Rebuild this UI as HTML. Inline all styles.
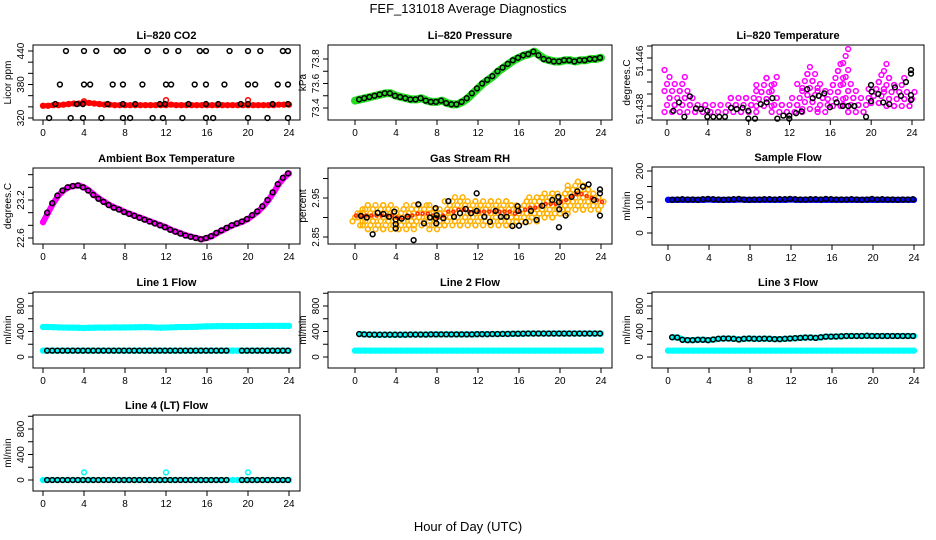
<!DOCTYPE html>
<html><head><meta charset="utf-8"><style>
body{margin:0;background:#fff;}
svg{display:block;font-family:"Liberation Sans",sans-serif;}
</style></head><body>
<svg id="fig" width="936" height="540" viewBox="0 0 936 540" xmlns="http://www.w3.org/2000/svg">
<rect width="936" height="540" fill="#fff"/>
<text x="468" y="13" font-size="13" text-anchor="middle">FEF_131018  Average Diagnostics</text>
<text x="468" y="531" font-size="13" text-anchor="middle">Hour of Day (UTC)</text>
</svg>
<script>
const H=[0,0.5,1,1.5,2,2.5,3,3.5,4,4.5,5,5.5,6,6.5,7,7.5,8,8.5,9,9.5,10,10.5,11,11.5,12,12.5,13,13.5,14,14.5,15,15.5,16,16.5,17,17.5,18,18.5,19,19.5,20,20.5,21,21.5,22,22.5,23,23.5,24];
const xTicks=[0,4,8,12,16,20,24];
// CO2
const co2Red=[342,342,343,343,344,345,346,346,347,347,346,345,344,344,343,343,343,343,343,343,343,343,343,343,343,344,343,343,343,343,343,343,343,343,343,343,343,343,343,343,343,343,343,343,343,343,344,344,344];
const co2SpikeH=[4.0,12.0,20.0];
const co2SpikeV=[350,352,352];
const co2BlackH=[2.24,4.0,5.2,7.2,7.8,10.2,12.0,13.2,15.3,15.9,18.2,20.0,21.2,23.4,23.9,1.65,4.0,4.6,6.8,7.8,9.7,12.0,12.5,14.8,15.9,17.7,20.0,20.7,22.9,23.9,1.2,3.3,3.9,6.3,7.8,9.0,11.4,11.9,14.2,15.9,17.1,19.3,20.0,22.4,23.9,0.6,2.7,3.9,5.7,7.8,8.5,10.7,11.7,13.6,15.9,16.6,20.0,21.9,23.9];
const co2BlackV=[440,440,440,440,440,440,440,440,440,440,440,440,440,440,440,380,380,380,380,380,380,380,380,380,380,380,380,380,380,380,345,345,345,345,345,345,345,345,345,345,345,345,345,345,345,320,320,320,320,320,320,320,320,320,320,320,320,320,320];
// Pressure
const pres=[73.46,73.47,73.48,73.49,73.5,73.51,73.52,73.52,73.5,73.49,73.48,73.47,73.47,73.48,73.46,73.45,73.45,73.46,73.44,73.43,73.43,73.45,73.48,73.52,73.56,73.6,73.63,73.66,73.7,73.73,73.76,73.79,73.81,73.83,73.84,73.86,73.83,73.8,73.79,73.78,73.78,73.79,73.79,73.78,73.79,73.79,73.8,73.8,73.81];
// Li-820 temperature
const tempHi=[51.444,51.441,51.442,51.443,51.441,51.440,51.439,51.4385,51.439,51.4385,51.439,51.438,51.4395,51.440,51.4395,51.440,51.440,51.441,51.442,51.443,51.443,51.443,51.4395,51.439,51.439,51.440,51.442,51.444,51.445,51.444,51.442,51.441,51.442,51.444,51.446,51.4475,51.442,51.441,51.4395,51.440,51.441,51.442,51.444,51.446,51.443,51.442,51.443,51.441,51.441];
const tempLo=[51.437,51.437,51.437,51.437,51.437,51.437,51.437,51.437,51.437,51.437,51.437,51.437,51.437,51.437,51.437,51.437,51.437,51.437,51.438,51.438,51.438,51.437,51.437,51.437,51.437,51.437,51.437,51.4375,51.4375,51.4375,51.437,51.437,51.438,51.438,51.438,51.437,51.437,51.437,51.437,51.437,51.4385,51.4385,51.4385,51.438,51.438,51.438,51.438,51.438,51.438];
const tempBlackH=[0.62,1.18,1.70,2.24,2.84,3.33,3.95,3.95,4.54,5.12,5.68,6.27,6.83,7.41,7.97,7.97,8.62,9.18,9.76,10.32,10.81,11.40,11.98,11.98,12.64,13.19,13.74,14.27,14.86,15.41,15.96,16.62,17.21,17.76,18.35,19.50,19.99,19.99,20.05,20.70,21.18,21.77,22.33,22.92,23.41,23.9,23.9,23.9,23.9];
const tempBlackV=[51.4372,51.4386,51.4362,51.4396,51.4376,51.4375,51.4372,51.4362,51.4362,51.4362,51.4362,51.4377,51.4375,51.4377,51.4372,51.4359,51.4359,51.4383,51.4386,51.4393,51.4359,51.4364,51.4364,51.4359,51.4368,51.4371,51.4408,51.4393,51.4397,51.4401,51.4378,51.4386,51.4380,51.4380,51.4380,51.4362,51.4388,51.4415,51.4404,51.4400,51.4386,51.4383,51.4411,51.4397,51.4420,51.4398,51.4390,51.4434,51.4440];
// Ambient box temperature
const amb=[22.85,23.0,23.15,23.27,23.35,23.4,23.42,23.43,23.4,23.35,23.28,23.22,23.17,23.12,23.08,23.05,23.01,22.98,22.95,22.92,22.89,22.86,22.83,22.8,22.77,22.73,22.7,22.67,22.64,22.62,22.6,22.58,22.6,22.63,22.68,22.72,22.76,22.8,22.83,22.86,22.9,22.96,23.02,23.1,23.2,23.32,23.45,23.55,23.62];
// Gas stream RH
const rhLo=[2.89,2.88,2.87,2.87,2.87,2.87,2.87,2.87,2.87,2.87,2.87,2.87,2.88,2.88,2.88,2.87,2.87,2.88,2.88,2.88,2.88,2.88,2.88,2.88,2.88,2.88,2.88,2.88,2.88,2.88,2.88,2.88,2.89,2.89,2.89,2.89,2.9,2.9,2.9,2.9,2.91,2.91,2.92,2.92,2.92,2.92,2.92,2.92,2.92];
const rhHi=[2.92,2.93,2.94,2.94,2.94,2.94,2.94,2.94,2.93,2.93,2.94,2.94,2.94,2.94,2.94,2.94,2.93,2.93,2.95,2.95,2.96,2.96,2.95,2.95,2.95,2.95,2.95,2.95,2.95,2.95,2.95,2.94,2.94,2.95,2.96,2.96,2.96,2.97,2.97,2.97,2.97,2.98,2.99,3.0,3.0,2.99,2.98,2.97,2.96];
const rhBlackH=[0.58,1.14,2.21,2.77,3.32,3.84,3.97,3.97,3.97,4.55,5.14,6.18,6.73,7.32,7.87,7.87,7.97,8.62,9.11,9.66,10.24,10.80,11.32,11.87,11.87,12.62,13.17,13.72,14.24,14.80,15.35,15.87,15.93,16.0,16.65,17.17,17.72,18.27,19.25,19.84,19.90,19.93,19.90,20.55,21.13,21.69,22.24,22.79,23.31,23.9,23.9,23.9,1.72,5.72,7.93];
const rhBlackV=[2.904,2.900,2.912,2.909,2.902,2.915,2.895,2.883,2.872,2.897,2.902,2.934,2.885,2.900,2.898,2.924,2.906,2.898,2.942,2.902,2.911,2.922,2.911,2.917,2.962,2.902,2.889,2.917,2.902,2.902,2.878,2.929,2.917,2.879,2.888,2.917,2.894,2.930,2.945,2.953,2.939,2.921,2.875,2.905,2.953,2.967,2.979,2.985,2.945,2.972,2.962,2.905,2.857,2.842,2.885];
// Sample flow
const sampleBlue=[107,107,107,107,107,107,107,107,108,107,107,107,107,107,108,107,107,107,107,107,107,107,107,107,108,107,107,107,107,107,107,107,107,107,107,107,107,107,107,107,107,107,107,107,107,107,107,107,107];
const sampleBlack=[108,107,108,109,108,108,107,109,110,109,108,107,108,109,110,108,107,108,108,109,109,108,109,109,110,109,108,108,109,109,108,110,109,108,108,108,109,108,107,108,110,108,109,108,108,107,108,108,109];
// Line flows
const l1Hi=[470,470,468,465,462,460,460,458,455,458,460,462,460,462,465,462,465,465,466,468,468,466,462,460,462,465,468,470,470,472,475,478,480,482,484,485,484,484,485,486,486,487,487,488,488,488,488,488,488];
const l1Lo=[100,100,100,100,100,100,100,100,100,100,100,100,100,100,100,100,100,100,100,100,100,100,100,100,100,100,100,100,100,100,100,100,100,100,100,100,100,100,100,100,100,100,100,100,100,100,100,100,100];
const l1Black=[null,100,100,100,100,100,100,100,100,100,100,100,100,100,100,100,100,100,100,100,100,100,100,100,100,100,100,100,100,100,100,100,100,100,100,100,100,null,null,100,100,100,100,100,100,100,100,100,100];
const l2Lo=[100,100,100,100,100,100,100,100,100,100,100,100,100,100,100,100,100,100,100,100,100,100,100,100,100,100,100,100,100,100,100,100,100,100,100,100,100,100,100,100,100,100,100,100,100,100,100,100,100];
const l2Hi=[null,360,355,352,350,350,350,350,350,350,350,352,352,352,352,355,355,355,355,355,355,355,355,355,358,358,358,360,360,362,362,365,365,366,368,368,368,368,368,368,368,368,368,368,368,368,368,368,368];
const l3Lo=[100,100,100,100,100,100,100,100,100,100,100,100,100,100,100,100,100,100,100,100,100,100,100,100,100,100,100,100,100,100,100,100,100,100,100,100,100,100,100,100,100,100,100,100,100,100,100,100,100];
const l3Hi=[null,310,305,270,265,265,270,270,265,275,285,290,290,285,275,285,290,285,285,288,285,280,280,285,290,295,300,305,305,300,310,320,320,322,325,330,330,330,330,332,330,330,330,330,330,330,330,330,330];
const l4Cyan=[0,0,0,0,0,0,0,0,0,0,0,0,0,0,0,0,0,0,0,0,0,0,0,0,0,0,0,0,0,0,0,0,0,0,0,0,0,0,0,0,0,0,0,0,0,0,0,0,0];
const l4SpikeH=[4,12,20];
const l4SpikeV=[120,120,120];
const l4Black=[null,0,0,0,0,0,0,0,0,0,0,0,0,0,0,0,0,0,0,0,0,0,0,0,0,0,0,0,0,0,0,0,0,0,0,0,0,null,null,0,0,0,0,0,0,0,0,0,0];

const NS='http://www.w3.org/2000/svg';
const fig=document.getElementById('fig');
function mk(tag,attrs,parent){const e=document.createElementNS(NS,tag);for(const k in attrs)e.setAttribute(k,attrs[k]);(parent||fig).appendChild(e);return e;}

function panel(c){
  const g=mk('g',{});
  
  
  const sx=h=>c.x0+(c.x24-c.x0)*h/24;
  const sy=v=>c.yp0+(c.yp1-c.yp0)*(v-c.yv0)/(c.yv1-c.yv0);
  const t=mk('text',{x:(c.L+c.R)/2,y:c.T-6,'font-size':11,'font-weight':'bold','text-anchor':'middle'},g);
  t.textContent=c.title;
  
  
  const plot=mk('g',{},g);
  
  
  xTicks.forEach(h=>{
    mk('line',{x1:sx(h),x2:sx(h),y1:c.B,y2:c.B+5,stroke:'#000'},g);
    const l=mk('text',{x:sx(h),y:c.B+16,'font-size':10,'text-anchor':'middle'},g);
    l.textContent=h;
    
    
  });
  c.yticks.forEach(v=>{mk('line',{x1:c.L-5,x2:c.L,y1:sy(v),y2:sy(v),stroke:'#000'},g);});
  c.ylabels.forEach((s,i)=>{
    const y=sy(c.ylabelV[i]);
    const l=mk('text',{x:0,y:0,'font-size':10,'text-anchor':'middle',transform:`translate(${c.L-9},${y}) rotate(-90)`},g);
    l.textContent=s;
    
    
  });
  const yl=mk('text',{x:0,y:0,'font-size':10,'text-anchor':'middle',transform:`translate(${c.L-22},${(c.T+c.B)/2}) rotate(-90)`},g);
  yl.textContent=c.ylab;
  
  
  g.plot=plot;
  c.sx=sx;c.sy=sy;c.g=g;
  c.finish=()=>{mk('rect',{x:c.L,y:c.T,width:c.R-c.L,height:c.B-c.T,fill:'none',stroke:'#000'},g);};
  return c;
}
function pt(p,x,y,col,name,r){
  const e=mk('circle',{cx:x,cy:y,r:r||2.4,fill:'none',stroke:col,'stroke-width':1.5},p.g.plot);
  
  
}
function band(p,vals,col,name,w){
  let d='';vals.forEach((v,i)=>{if(v==null)return;d+=(d?'L':'M')+p.sx(H[i])+','+p.sy(v);});
  const e=mk('path',{d:d,fill:'none',stroke:col,'stroke-width':w,'stroke-linejoin':'round','stroke-linecap':'round'},p.g.plot);
  
  
  vals.forEach((v,i)=>{if(v!=null)pt(p,p.sx(H[i]),p.sy(v),col,name+'-point');});
}
function blacks(p,vals,name){vals.forEach((v,i)=>{if(v!=null&&i>0)pt(p,p.sx(H[i]-0.1),p.sy(v),'#000',name);});}
function scatterBand(p,lo,hi,col,name,step){
  lo.forEach((l,i)=>{
    const y1=p.sy(hi[i]),y0=p.sy(l);
    let k=i%3;
    for(let y=y0;y>=y1;y-=step){
      const dx=[-2.5,0,2.5][k%3];k++;
      pt(p,p.sx(H[i])+dx,y,col,name);
    }
  });
}

// Panel 1: CO2
const p1=panel({name:'co2',title:'Li\u2013820 CO2',L:33,T:45,R:300,B:120,x0:43,x24:289,yv0:320,yp0:118,yv1:440,yp1:51,yticks:[320,340,360,380,400,420,440],ylabels:['320','380','440'],ylabelV:[320,380,440],ylab:'Licor ppm'});
band(p1,co2Red,'#ff0000','co2-series',5);
co2SpikeH.forEach((h,i)=>pt(p1,p1.sx(h),p1.sy(co2SpikeV[i]),'#ff0000','co2-spike'));
co2BlackH.forEach((h,i)=>pt(p1,p1.sx(h),p1.sy(co2BlackV[i]),'#000','co2-average-point'));
p1.finish();

// Panel 2: Pressure
const p2=panel({name:'pressure',title:'Li\u2013820 Pressure',L:328,T:45,R:612,B:120,x0:355,x24:601,yv0:73.4,yp0:108,yv1:73.8,yp1:59,yticks:[73.4,73.5,73.6,73.7,73.8],ylabels:['73.4','73.6','73.8'],ylabelV:[73.4,73.6,73.8],ylab:'kPa'});
band(p2,pres,'#22dd22','pressure-series',8);
blacks(p2,pres,'pressure-average-point');
p2.finish();

// Panel 3: Li-820 temperature
const p3=panel({name:'li820-temp',title:'Li\u2013820 Temperature',L:652,T:45,R:924,B:120,x0:667,x24:912,yv0:51.438,yp0:106,yv1:51.446,yp1:58,yticks:[51.436,51.438,51.44,51.442,51.444,51.446,51.448],ylabels:['51.438','51.446'],ylabelV:[51.4375,51.4455],ylab:'degrees.C'});
scatterBand(p3,tempLo,tempHi,'#ff00ff','li820-temp-point',7);
tempBlackH.forEach((h,i)=>pt(p3,p3.sx(h),p3.sy(tempBlackV[i]),'#000','li820-temp-average-point'));
p3.finish();

// Panel 4: Ambient box temperature
const p4=panel({name:'ambient-temp',title:'Ambient Box Temperature',L:33,T:168,R:300,B:244,x0:43,x24:289,yv0:22.6,yp0:238,yv1:23.2,yp1:200,yticks:[22.6,22.8,23.0,23.2,23.4,23.6],ylabels:['22.6','23.2'],ylabelV:[22.6,23.2],ylab:'degrees.C'});
band(p4,amb,'#ff00ff','ambient-temp-series',6);
blacks(p4,amb,'ambient-temp-average-point');
p4.finish();

// Panel 5: RH
const p5=panel({name:'rh',title:'Gas Stream RH',L:328,T:168,R:612,B:244,x0:355,x24:601,yv0:2.85,yp0:237,yv1:2.95,yp1:198,yticks:[2.85,2.9,2.95,3.0],ylabels:['2.85','2.95'],ylabelV:[2.85,2.95],ylab:'percent'});
scatterBand(p5,rhLo,rhHi,'#ffb000','rh-point',4);
rhLo.forEach((l,i)=>pt(p5,p5.sx(H[i])+1,p5.sy((l+rhHi[i])/2),'#ff3000','rh-red-point',1.5));
rhBlackH.forEach((h,i)=>pt(p5,p5.sx(h),p5.sy(rhBlackV[i]),'#000','rh-average-point'));
p5.finish();

// Panel 6: Sample flow
const p6=panel({name:'sample-flow',title:'Sample Flow',L:652,T:167,R:924,B:245,x0:668,x24:914,yv0:0,yp0:233,yv1:200,yp1:171,yticks:[0,50,100,150,200],ylabels:['0','100','200'],ylabelV:[0,100,200],ylab:'ml/min'});
band(p6,sampleBlue,'#0000ff','sample-flow-series',6);
blacks(p6,sampleBlack,'sample-flow-average-point');
p6.finish();

// Panels 7-10: line flows
const flowTicks=[0,200,400,600,800,1000];
function flowPanel(name,title,L,R,x0,x24,T,B,zero){
  return panel({name:name,title:title,L:L,T:T,R:R,B:B,x0:x0,x24:x24,yv0:0,yp0:zero,yv1:800,yp1:zero-51,yticks:flowTicks,ylabels:['0','400','800'],ylabelV:[0,400,800],ylab:'ml/min'});
}
const p7=flowPanel('line1-flow','Line 1 Flow',33,300,43,289,292,368,357);
band(p7,l1Hi,'#00ffff','line1-high-series',6);
band(p7,l1Lo,'#00ffff','line1-low-series',6);
blacks(p7,l1Black,'line1-average-point');
p7.finish();

const p8=flowPanel('line2-flow','Line 2 Flow',328,612,355,601,292,368,357);
band(p8,l2Lo,'#00ffff','line2-low-series',6);
band(p8,l2Hi,'#00ffff','line2-high-series',6);
blacks(p8,l2Hi,'line2-average-point');
p8.finish();

const p9=flowPanel('line3-flow','Line 3 Flow',652,924,668,914,292,368,357);
band(p9,l3Lo,'#00ffff','line3-low-series',6);
band(p9,l3Hi,'#00ffff','line3-high-series',6);
blacks(p9,l3Hi,'line3-average-point');
p9.finish();

const p10=flowPanel('line4-flow','Line 4 (LT) Flow',33,300,43,289,415,491,480);
band(p10,l4Cyan,'#00ffff','line4-series',5);
l4SpikeH.forEach((h,i)=>pt(p10,p10.sx(h),p10.sy(l4SpikeV[i]),'#00ffff','line4-spike'));
blacks(p10,l4Black,'line4-average-point');
p10.finish();
</script>
</body></html>
